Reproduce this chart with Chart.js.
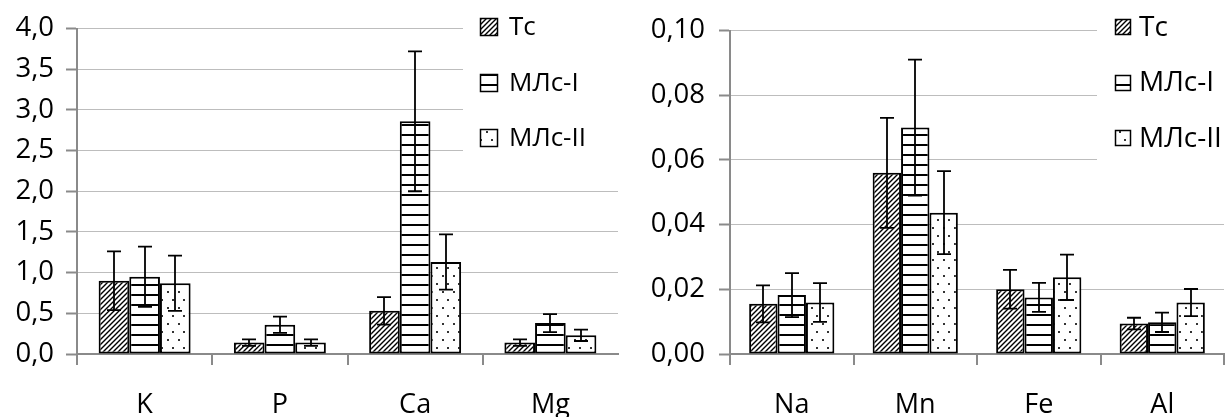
<!DOCTYPE html>
<html><head><meta charset="utf-8">
<script src="https://cdn.jsdelivr.net/npm/chart.js"></script>
<style>
html,body{margin:0;padding:0;background:#fff;}
#wrap{position:relative;width:1230px;height:417px;overflow:hidden;background:#fff;}
#c1{position:absolute;left:0;top:0;}
#c2{position:absolute;left:622px;top:0;}
</style></head><body>
<div id="wrap"><canvas id="c1" width="622" height="417"></canvas><canvas id="c2" width="608" height="417"></canvas></div>
<script>
// ---- data ----
const seriesNames = ['Тс', 'МЛс-I', 'МЛс-II'];

const leftCategories = ['K', 'P', 'Ca', 'Mg'];
const leftTc      = [0.90, 0.14, 0.53, 0.14];
const leftTcErr   = [0.36, 0.04, 0.17, 0.04];
const leftMl1     = [0.95, 0.36, 2.86, 0.38];
const leftMl1Err  = [0.37, 0.10, 0.86, 0.11];
const leftMl2     = [0.87, 0.14, 1.13, 0.23];
const leftMl2Err  = [0.34, 0.04, 0.34, 0.07];
const leftTickLabels = ['0,0','0,5','1,0','1,5','2,0','2,5','3,0','3,5','4,0'];

const rightCategories = ['Na', 'Mn', 'Fe', 'Al'];
const rightTc     = [0.0155, 0.0560, 0.0200, 0.0094];
const rightTcErr  = [0.0057, 0.0170, 0.0060, 0.0018];
const rightMl1    = [0.0182, 0.0700, 0.0175, 0.0098];
const rightMl1Err = [0.0068, 0.0210, 0.0045, 0.0030];
const rightMl2    = [0.0159, 0.0437, 0.0237, 0.0159];
const rightMl2Err = [0.0060, 0.0128, 0.0070, 0.0042];
const rightTickLabels = ['0,00','0,02','0,04','0,06','0,08','0,10'];

// ---- patterns ----
function mkPattern(w, h, draw){
  const c = document.createElement('canvas'); c.width = w; c.height = h;
  const x = c.getContext('2d');
  x.fillStyle = '#fff'; x.fillRect(0,0,w,h);
  draw(x, w, h);
  return document.getElementById('c1').getContext('2d').createPattern(c, 'repeat');
}
const patHatch = mkPattern(5, 5, (x,w,h)=>{
  x.strokeStyle = '#000'; x.lineWidth = 1.4; x.beginPath();
  x.moveTo(-1,6); x.lineTo(6,-1);
  x.moveTo(-4,4); x.lineTo(4,-4);
  x.moveTo(1,9); x.lineTo(9,1);
  x.stroke();
});
const patHoriz = mkPattern(10, 10, (x,w,h)=>{
  x.fillStyle = '#000'; x.fillRect(0,4,w,2);
});
const patDots = mkPattern(11, 16, (x,w,h)=>{
  x.fillStyle = '#333';
  x.fillRect(2,3,2,2);
  x.fillRect(7,11,2,2);
});
const patterns = [patHatch, patHoriz, patDots];

// ---- plugins ----
const errorBarPlugin = {
  id: 'errBars',
  afterDatasetsDraw(chart){
    const ctx = chart.ctx, ys = chart.scales.y;
    ctx.save();
    ctx.strokeStyle = '#000'; ctx.lineWidth = 1.8;
    chart.data.datasets.forEach((ds, i) => {
      const meta = chart.getDatasetMeta(i);
      meta.data.forEach((bar, j) => {
        const v = ds.data[j], e = ds.errors[j];
        const x = Math.round(bar.x);
        const yT = ys.getPixelForValue(v + e), yB = ys.getPixelForValue(v - e);
        ctx.beginPath();
        ctx.moveTo(x, yT); ctx.lineTo(x, yB);
        ctx.moveTo(x - 7, yT); ctx.lineTo(x + 7, yT);
        ctx.moveTo(x - 7, yB); ctx.lineTo(x + 7, yB);
        ctx.stroke();
      });
    });
    ctx.restore();
  }
};

const legendPlugin = {
  id: 'boxLegend',
  beforeDatasetsDraw(chart, args, o){
    const ctx = chart.ctx;
    ctx.save(); ctx.fillStyle = '#fff';
    ctx.fillRect(o.clearX, 0, chart.width - o.clearX, o.clearBottom);
    ctx.restore();
  },
  afterDraw(chart, args, o){
    const ctx = chart.ctx;
    ctx.save();
    chart.data.datasets.forEach((ds, i) => {
      const cy = o.y0 + i * o.dy;
      const bx = o.boxX, by = Math.round(cy - o.box / 2);
      ctx.fillStyle = ds.backgroundColor;
      ctx.fillRect(bx, by, o.box, o.box);
      ctx.strokeStyle = '#000'; ctx.lineWidth = 1.5;
      ctx.strokeRect(bx + 0.5, by + 0.5, o.box - 1, o.box - 1);
      ctx.fillStyle = '#000';
      ctx.font = "500 " + o.fontSize + "px 'Open Sans', sans-serif";
      ctx.textBaseline = 'middle'; ctx.textAlign = 'left';
      ctx.fillText(ds.label, o.textX, cy + 1);
    });
    ctx.restore();
  }
};

Chart.defaults.font.family = "'Open Sans', sans-serif";
Chart.defaults.font.weight = '500';
Chart.defaults.color = '#000';

function makeChart(id, cats, vals, errs, tickLabels, cfg){
  const datasets = seriesNames.map((n, i) => ({
    label: n,
    data: vals[i],
    errors: errs[i],
    backgroundColor: patterns[i],
    borderColor: '#000',
    borderWidth: 2,
    borderSkipped: false,
    categoryPercentage: cfg.catPct,
    barPercentage: 1.0
  }));
  const gray = '#8a8a8a';
  return new Chart(document.getElementById(id), {
    type: 'bar',
    data: { labels: cats, datasets },
    plugins: [legendPlugin, errorBarPlugin],
    options: {
      responsive: false,
      animation: false,
      devicePixelRatio: 1,
      layout: { padding: { left: 0, right: cfg.padRight, top: 24, bottom: 0 } },
      plugins: {
        legend: { display: false },
        tooltip: { enabled: false },
        boxLegend: cfg.legend
      },
      scales: {
        x: {
          offset: true,
          grid: { display: true, drawOnChartArea: false, drawTicks: true, tickLength: 11,
                  color: c => (cfg.hideEndTick && c.index === undefined) ? 'rgba(0,0,0,0)' : gray,
                  lineWidth: 2, offset: true },
          border: { display: true, color: gray, width: 2 },
          ticks: { font: { size: 27, weight: '500' }, padding: cfg.xPad, color: '#000' },
          afterFit: s => { s.height = 63; }
        },
        y: {
          min: 0, max: cfg.max,
          grid: {
            color: c => (c.tick && c.tick.value === 0) ? 'rgba(0,0,0,0)' : '#bdbdbd',
            lineWidth: 1, borderDash: [1, 1],
            tickColor: gray, tickBorderDash: [], tickWidth: 2, tickLength: 11, drawTicks: true
          },
          border: { display: true, color: gray, width: 2 },
          ticks: {
            stepSize: cfg.step, padding: cfg.yPad, font: { size: 27.5, weight: '500' }, color: '#000',
            callback: (v, i) => tickLabels[i]
          },
          afterFit: s => { s.width = cfg.yWidth; }
        }
      }
    }
  });
}

makeChart('c1', leftCategories, [leftTc, leftMl1, leftMl2], [leftTcErr, leftMl1Err, leftMl2Err], leftTickLabels, {
  catPct: 0.68, padRight: 4, max: 4, step: 0.5, yWidth: 77, yPad: 12, xPad: 24, hideEndTick: true,
  legend: { clearX: 463, clearBottom: 166, boxX: 480, box: 18, textX: 509, y0: 27, dy: 55.5, fontSize: 26 }
});
makeChart('c2', rightCategories, [rightTc, rightMl1, rightMl2], [rightTcErr, rightMl1Err, rightMl2Err], rightTickLabels, {
  catPct: 0.69, padRight: 6, max: 0.10, step: 0.02, yWidth: 108, yPad: 14, xPad: 24, hideEndTick: false,
  legend: { clearX: 475, clearBottom: 190, boxX: 493, box: 16, textX: 517, y0: 27, dy: 55.5, fontSize: 28 }
});
</script>
</body></html>
